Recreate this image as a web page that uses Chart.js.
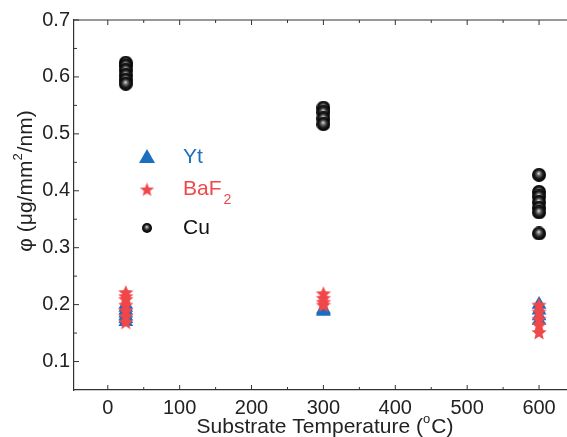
<!DOCTYPE html>
<html>
<head>
<meta charset="utf-8">
<script src="https://cdn.jsdelivr.net/npm/chart.js@4.4.1/dist/chart.umd.min.js"></script>
<style>
  html, body { margin: 0; padding: 0; background: #fff; overflow: hidden; }
  #wrap { width: 584px; height: 437px; }
</style>
</head>
<body>
<div id="wrap"><canvas id="c" width="584" height="437"></canvas></div>
<script>
// values
const ytTemps = [25, 25, 25, 25, 25, 25, 25, 300, 300, 300, 600, 600, 600, 600];
const ytVals = [0.2, 0.195, 0.19, 0.185, 0.18, 0.175, 0.17, 0.192, 0.19, 0.188, 0.2, 0.19, 0.18, 0.172];

const bafTemps = [25, 25, 25, 25, 25, 25, 25, 300, 300, 300, 300, 600, 600, 600, 600, 600];
const bafVals = [0.222, 0.215, 0.21, 0.2, 0.19, 0.18, 0.17, 0.22, 0.212, 0.205, 0.2, 0.2, 0.188, 0.175, 0.165, 0.152];

const cuTemps = [25, 25, 25, 25, 25, 25, 300, 300, 300, 300, 600, 600, 600, 600, 600, 600, 600];
const cuVals = [0.625, 0.62, 0.612, 0.603, 0.595, 0.588, 0.546, 0.538, 0.527, 0.517, 0.428, 0.398, 0.39, 0.38, 0.37, 0.362, 0.325];

const xTicks = [0, 100, 200, 300, 400, 500, 600];
const yTicks = [0.1, 0.2, 0.3, 0.4, 0.5, 0.6, 0.7];
const seriesNames = ['Yt', 'BaF', 'Cu'];

const colors = {
  blue: '#1b6fbe',
  red: '#f0474b',
  text: '#222',
  axis: '#333'
};
const FAMILY = '"Liberation Sans", Arial, sans-serif';

// shiny black ball used as point style
function makeBall(r) {
  const c = document.createElement('canvas');
  c.width = c.height = r * 2;
  const g = c.getContext('2d');
  const grad = g.createRadialGradient(r * 0.95, r * 0.75, 0, r, r, r);
  grad.addColorStop(0, '#f2f2f2');
  grad.addColorStop(0.25, '#777');
  grad.addColorStop(0.6, '#1c1c1c');
  grad.addColorStop(1, '#000');
  g.fillStyle = grad;
  g.beginPath();
  g.arc(r, r, r, 0, Math.PI * 2);
  g.fill();
  return c;
}

// filled five point star
function makeStar(outer, inner, color) {
  const s = Math.ceil(outer * 2 + 2);
  const c = document.createElement('canvas');
  c.width = c.height = s;
  const g = c.getContext('2d');
  g.fillStyle = color;
  g.beginPath();
  for (let i = 0; i < 10; i++) {
    const r = i % 2 === 0 ? outer : inner;
    const ang = -Math.PI / 2 + i * Math.PI / 5;
    const px = s / 2 + r * Math.cos(ang), py = s / 2 + 1 + r * Math.sin(ang);
    if (i === 0) g.moveTo(px, py); else g.lineTo(px, py);
  }
  g.closePath();
  g.fill();
  return c;
}

const ball = makeBall(7);
const smallBall = makeBall(5);
const star = makeStar(8, 3.6, colors.red);
const smallStar = makeStar(7.5, 3.2, colors.red);

const toPts = (xs, ys) => xs.map((x, i) => ({ x: x, y: ys[i] }));

// draws text pieces, some raised as superscripts
function drawPieces(ctx, pieces, size) {
  const widths = pieces.map(p => {
    ctx.font = (p.sup ? Math.round(size * 0.62) : size) + 'px ' + FAMILY;
    return ctx.measureText(p.t).width + (p.sup ? 1 : 0);
  });
  const total = widths.reduce((a, b) => a + b, 0);
  let x = -total / 2;
  pieces.forEach((p, i) => {
    ctx.font = (p.sup ? Math.round(size * 0.62) : size) + 'px ' + FAMILY;
    ctx.fillText(p.t, x, p.sup ? -size * 0.38 : 0);
    x += widths[i];
  });
}

// inward ticks, frame and axis titles
const frameTicks = {
  id: 'frameTicks',
  afterDatasetsDraw(chart) {
    const { ctx, chartArea: a, scales } = chart;
    const sx = scales.x, sy = scales.y;
    ctx.save();
    ctx.strokeStyle = colors.axis;
    ctx.lineWidth = 1.2;
    ctx.beginPath();
    ctx.moveTo(a.left, a.top); ctx.lineTo(a.right, a.top);
    ctx.moveTo(a.right, a.top); ctx.lineTo(a.right, a.bottom);
    ctx.stroke();
    ctx.lineWidth = 1;
    ctx.beginPath();
    for (let v = -50; v <= 650; v += 50) {
      const px = sx.getPixelForValue(v);
      if (px <= a.left + 1 || px >= a.right - 1) continue;
      const len = v % 100 === 0 ? 5 : 3;
      ctx.moveTo(px, a.bottom); ctx.lineTo(px, a.bottom - len);
      ctx.moveTo(px, a.top); ctx.lineTo(px, a.top + len);
    }
    for (let k = 1; k <= 14; k++) {
      const py = sy.getPixelForValue(0.05 * k);
      if (py >= a.bottom - 1) continue;
      const len = k % 2 === 0 ? 5 : 3;
      ctx.moveTo(a.left, py); ctx.lineTo(a.left + len, py);
    }
    ctx.stroke();

    ctx.fillStyle = colors.text;
    ctx.textBaseline = 'middle';
    ctx.textAlign = 'left';
    // x title
    ctx.save();
    ctx.translate(325, 427);
    drawPieces(ctx, [{ t: 'Substrate Temperature (' }, { t: 'o', sup: true }, { t: 'C)' }], 21);
    ctx.restore();
    // y title
    ctx.save();
    ctx.translate(26, 181);
    ctx.rotate(-Math.PI / 2);
    drawPieces(ctx, [{ t: '\u03c6 (\u03bcg/mm' }, { t: '2', sup: true }, { t: '/nm)' }], 21);
    ctx.restore();
    ctx.restore();
  }
};

// legend with subscript
const customLegend = {
  id: 'customLegend',
  afterDraw(chart) {
    const { ctx } = chart;
    const mx = 147, tx = 183;
    const rows = [157, 189, 228];
    ctx.save();
    ctx.fillStyle = colors.blue;
    ctx.beginPath();
    ctx.moveTo(mx, rows[0] - 8); ctx.lineTo(mx + 8, rows[0] + 6); ctx.lineTo(mx - 8, rows[0] + 6);
    ctx.closePath(); ctx.fill();
    ctx.drawImage(smallStar, mx - smallStar.width / 2, rows[1] - smallStar.height / 2);
    ctx.drawImage(smallBall, mx - 5, rows[2] - 5);

    ctx.font = '21px ' + FAMILY;
    ctx.textBaseline = 'middle';
    ctx.textAlign = 'left';
    ctx.fillStyle = colors.blue;
    ctx.fillText(seriesNames[0], tx, rows[0]);
    ctx.fillStyle = colors.red;
    ctx.fillText(seriesNames[1], tx, rows[1]);
    const w = ctx.measureText(seriesNames[1]).width;
    ctx.font = '14px ' + FAMILY;
    ctx.fillText('2', tx + w + 2, rows[1] + 11);
    ctx.font = '21px ' + FAMILY;
    ctx.fillStyle = '#111';
    ctx.fillText(seriesNames[2], tx, rows[2]);
    ctx.restore();
  }
};

const font = { family: FAMILY, size: 20 };

new Chart(document.getElementById('c'), {
  type: 'scatter',
  data: {
    datasets: [
      {
        label: 'BaF2',
        data: toPts(bafTemps, bafVals),
        pointStyle: star,
        pointRadius: 8
      },
      {
        label: 'Yt',
        data: toPts(ytTemps, ytVals),
        pointStyle: 'triangle',
        pointRadius: 8.5,
        borderWidth: 0,
        borderColor: colors.blue,
        backgroundColor: colors.blue
      },
      {
        label: 'Cu',
        data: toPts(cuTemps, cuVals),
        pointStyle: ball,
        pointRadius: 7
      }
    ]
  },
  options: {
    responsive: false,
    animation: false,
    layout: { padding: { top: 20, right: 2, left: 0, bottom: 0 } },
    plugins: {
      legend: { display: false },
      tooltip: { enabled: false }
    },
    scales: {
      x: {
        type: 'linear',
        min: -47,
        max: 650,
        afterBuildTicks(scale) { scale.ticks = xTicks.map(v => ({ value: v })); },
        grid: { display: false, drawTicks: false, tickLength: 0 },
        border: { display: true, color: colors.axis, width: 1.2 },
        ticks: { color: colors.text, font: font, padding: 6, maxRotation: 0 },
        afterFit(scale) { scale.height = 47; }
      },
      y: {
        type: 'linear',
        min: 0.05,
        max: 0.7,
        afterBuildTicks(scale) { scale.ticks = yTicks.map(v => ({ value: v })); },
        grid: { display: false, drawTicks: false, tickLength: 0 },
        border: { display: true, color: colors.axis, width: 1.2 },
        ticks: {
          color: colors.text,
          font: font,
          padding: 4,
          callback: v => v.toFixed(1)
        },
        afterFit(scale) { scale.width = 74; }
      }
    }
  },
  plugins: [frameTicks, customLegend]
});
</script>
</body>
</html>
